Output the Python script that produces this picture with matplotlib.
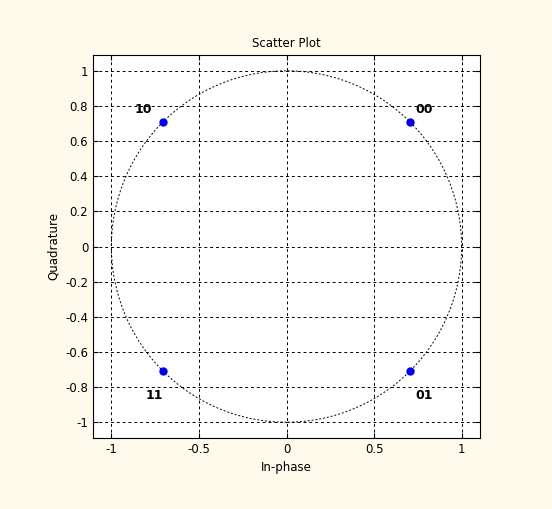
import numpy as np
import matplotlib
matplotlib.use("Agg")
import matplotlib.pyplot as plt

I = [0.7071, 0.7071, -0.7071, -0.7071]
Q = [0.7071, -0.7071, 0.7071, -0.7071]
labels = ["00", "01", "10", "11"]
label_off = [(0.08, 0.07), (0.08, -0.14), (-0.11, 0.07), (-0.05, -0.14)]
ticks = [-1, -0.8, -0.6, -0.4, -0.2, 0, 0.2, 0.4, 0.6, 0.8, 1]
xticks = [-1, -0.5, 0, 0.5, 1]

fig = plt.figure(figsize=(5.52, 5.09), dpi=100, facecolor="#fffaeb")
ax = fig.add_axes([93/552, 1-438/509, 387/552, 383/509])
t = np.linspace(0, 2*np.pi, 400)
ax.plot(np.cos(t), np.sin(t), 'k--', lw=0.7, dashes=(2, 2))
ax.plot(I, Q, 'o', color='#0000ee', ms=5)
for x, y, l, (dx, dy) in zip(I, Q, labels, label_off):
    ax.text(x+dx, y+dy, l, ha='center', va='center', fontsize=9, fontweight='bold')
ax.set_xlim(-1.105, 1.105)
ax.set_ylim(-1.09, 1.09)
ax.set_xticks(xticks)
ax.set_xticklabels(["-1", "-0.5", "0", "0.5", "1"])
ax.set_yticks(ticks)
ax.set_yticklabels(["-1", "-0.8", "-0.6", "-0.4", "-0.2", "0", "0.2", "0.4", "0.6", "0.8", "1"])
ax.grid(True, color='k', linestyle=(0, (3, 3)), lw=0.7)
ax.tick_params(direction='in', top=True, right=True, labelsize=8.5)
ax.set_xlabel("In-phase", fontsize=8.5)
ax.set_ylabel("Quadrature", fontsize=8.5)
ax.set_title("Scatter Plot", fontsize=8.5)
fig.savefig("out.png", facecolor=fig.get_facecolor())
